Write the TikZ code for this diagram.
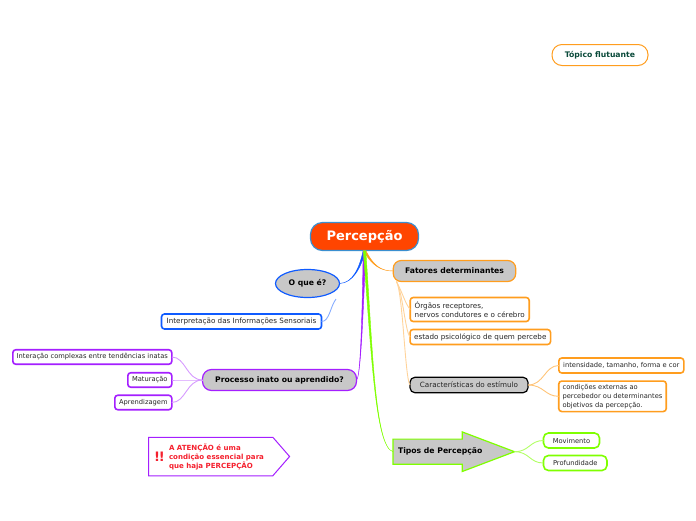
\documentclass[tikz,border=0pt]{standalone}
\usepackage{fontspec}
\setmainfont{DejaVu Sans}
\usetikzlibrary{shapes.geometric, shapes.symbols, shapes.arrows}
\definecolor{orangeline}{HTML}{FF9D1E}
\definecolor{blueline}{HTML}{0F5BFF}
\definecolor{purpleline}{HTML}{A41FFF}
\definecolor{greenline}{HTML}{7FFF00}
\definecolor{topicfill}{HTML}{C8C8C8}
\definecolor{rootfill}{HTML}{FF4500}
\definecolor{rootline}{HTML}{3A8FD0}
\definecolor{alertred}{HTML}{F5202E}
\definecolor{floatgreen}{HTML}{0A4A3A}
\newcommand{\mainbranch}[4]{
  \filldraw[#1, line width=.4] ([xshift=-1.3]percepcao.south) .. controls ([xshift=-.7]#2) and (#3) .. (#4)
    .. controls (#3) and ([xshift=.7]#2) .. ([xshift=1.3]percepcao.south) -- cycle;
}
\begin{document}
\begin{tikzpicture}[x=1pt, y=-1pt, outer sep=0, inner sep=0,
    small/.style={font=\fontsize{6.7}{9}\selectfont, text=black!85},
    big/.style={font=\fontsize{7.2}{9}\selectfont, text=black!85},
    subbox/.style={draw, fill=white, line width=1.6, rounded corners=3},
    topic/.style={font=\bfseries\fontsize{7.7}{9}\selectfont, text=black, draw, fill=topicfill, line width=1.2},
    kid/.style={line width=.9}]
    \useasboundingbox (0,0) rectangle (696,520);
    \node[draw=rootline, fill=rootfill, line width=1.2, rounded corners=12, minimum width=108, minimum height=28,
      text=white, font=\bfseries\fontsize{13}{15}\selectfont] (percepcao) at (364.5,236.5) {Percepção};
    \node[topic, draw=orangeline, rounded corners=8, minimum width=122.5, minimum height=21] (fatores) at (454.5,271) {Fatores determinantes};
    \node[topic, draw=blueline, ellipse, minimum width=64, minimum height=28] (oque) at (307.5,283.5) {O que é?};
    \node[topic, draw=purpleline, rounded corners=9, minimum width=154, minimum height=21] (processo) at (279.5,380) {Processo inato ou aprendido?};
    \node[topic, big, rounded corners=5, minimum width=118, minimum height=15.5] (caract) at (469,385) {Características do estímulo};

    \node[subbox, big, draw=blueline, minimum width=160, minimum height=15] (interp) at (241.5,321.5) {Interpretação das Informações Sensoriais};
    \node[subbox, small, draw=purpleline, minimum width=159, minimum height=14.5] (interacao) at (92.3,357) {Interação complexas entre tendências inatas};
    \node[subbox, small, draw=purpleline, minimum width=44, minimum height=14.5] (maturacao) at (149.8,380) {Maturação};
    \node[subbox, small, draw=purpleline, minimum width=57, minimum height=14.5] (aprendizagem) at (143.3,402.5) {Aprendizagem};
    \node[subbox, big, draw=orangeline, align=left, minimum width=119, minimum height=24] (orgaos) at (469.7,309.5) {Órgãos receptores,\\nervos condutores e o cérebro};
    \node[subbox, big, draw=orangeline, minimum width=140.5, minimum height=15] (estado) at (480.3,337) {estado psicológico de quem percebe};
    \node[subbox, small, draw=orangeline, minimum width=125, minimum height=15] (intensidade) at (621.3,365.5) {intensidade, tamanho, forma e cor};
    \node[subbox, small, draw=orangeline, align=left, minimum width=107.5, minimum height=30.5] (condicoes) at (612.5,396.3) {condições externas ao\\percebedor ou determinantes\\objetivos da percepção.};
    \node[subbox, small, draw=greenline, rounded corners=5, minimum width=56, minimum height=15] (movimento) at (571.5,440.5) {Movimento};
    \node[subbox, small, draw=greenline, rounded corners=5, minimum width=63.5, minimum height=15] (profundidade) at (575.2,463) {Profundidade};

    \node[single arrow, anchor=tail, draw=greenline, fill=topicfill, line width=1.2, minimum height=121.5, inner ysep=12,
      single arrow head extend=7.2, single arrow head indent=0, single arrow tip angle=41.5] (tipos) at (393,451.7) {};
    \node[anchor=west, font=\bfseries\fontsize{7.7}{9}\selectfont, text=black] (tiposlabel) at (398,451) {Tipos de Percepção};

    \node[signal, signal to=east, signal pointer angle=98, draw=purpleline, fill=white, line width=1,
      minimum width=141, minimum height=38.5] (atencao) at (210.7,456.5) {};
    \node[font=\bfseries\fontsize{13}{15}\selectfont, text=alertred] (alerta) at (159.5,456.5) {!\kern-1.2pt!};
    \node[anchor=west, align=left, font=\bfseries\fontsize{7.05}{9}\selectfont, text=alertred] (atencaotexto) at (169,456.5) {A ATENÇÃO é uma\\condição essencial para\\que haja PERCEPÇÃO};

    \node[draw=orangeline, fill=white, line width=1, rounded corners=10, minimum width=96, minimum height=21,
      text=floatgreen, font=\bfseries\fontsize{7.7}{9}\selectfont] (topico) at (600,55) {Tópico flutuante};

    \coordinate (oquefim) at (336,299);
    \mainbranch{blueline}{360,268}{353,283}{oque.east}
    \mainbranch{orangeline}{373,266}{381,271}{fatores.west}
    \mainbranch{purpleline}{363,300}{361,378}{processo.east}
    \mainbranch{greenline}{372,350}{375,447}{tipos.west}

    \draw[kid, blueline!50] (interp.east) .. controls +(8,0) and +(-6,8) .. (oquefim);
    \foreach \child in {interacao, maturacao, aprendizagem}
      \draw[kid, purpleline!45] (processo.west) .. controls +(-16,0) and +(14,0) .. (\child.east);
    \foreach \child in {orgaos, estado, caract}
      \draw[kid, orangeline!45] ([xshift=-58]fatores.south) .. controls +(6.5,12.5) and +(-5,-6) .. (\child.west);
    \foreach \child in {intensidade, condicoes}
      \draw[kid, orangeline!60] (caract.east) .. controls +(16,0) and +(-14,0) .. (\child.west);
    \foreach \child in {movimento, profundidade}
      \draw[kid, greenline!60] (tipos.tip) .. controls +(15,0) and +(-14,0) .. (\child.west);
  \end{tikzpicture}
\end{document}
